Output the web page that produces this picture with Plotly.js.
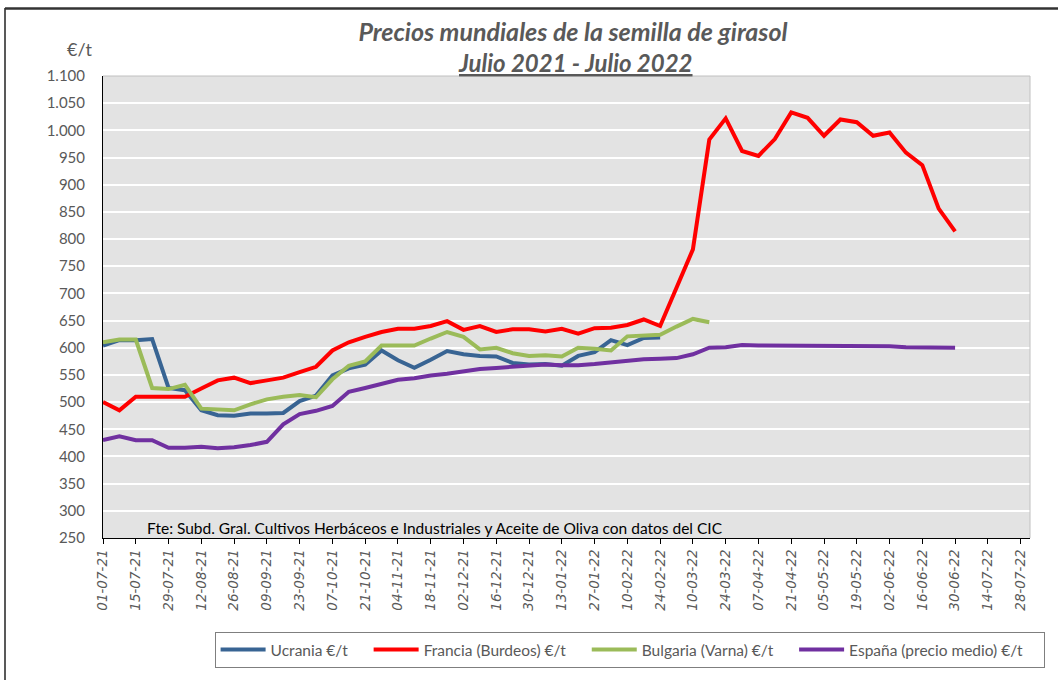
<!DOCTYPE html>
<html>
<head>
<meta charset="utf-8">
<script src="https://cdn.plot.ly/plotly-3.0.1.min.js"></script>
<style>
  html, body { margin: 0; padding: 0; background: #ffffff; }
  #chart { width: 1058px; height: 680px; }
</style>
</head>
<body>
<div id="chart"></div>
<script>
// Weekly dates
const dates = [
  '2021-07-01','2021-07-08','2021-07-15','2021-07-22','2021-07-29','2021-08-05','2021-08-12','2021-08-19','2021-08-26',
  '2021-09-02','2021-09-09','2021-09-16','2021-09-23','2021-09-30','2021-10-07','2021-10-14','2021-10-21','2021-10-28',
  '2021-11-04','2021-11-11','2021-11-18','2021-11-25','2021-12-02','2021-12-09','2021-12-16','2021-12-23','2021-12-30',
  '2022-01-06','2022-01-13','2022-01-20','2022-01-27','2022-02-03','2022-02-10','2022-02-17','2022-02-24','2022-03-03',
  '2022-03-10','2022-03-17','2022-03-24','2022-03-31','2022-04-07','2022-04-14','2022-04-21','2022-04-28','2022-05-05',
  '2022-05-12','2022-05-19','2022-05-26','2022-06-02','2022-06-09','2022-06-16','2022-06-23','2022-06-30'
];

// Series values (€/t)
const ucrania = [604,614,614,616,526,522,485,476,475,479,479,480,502,512,549,562,569,595,577,563,578,594,588,585,584,572,569,570,567,585,592,614,605,618,619];
const francia = [500,485,510,510,510,510,525,540,545,535,540,545,555,565,595,610,620,629,635,635,640,649,633,640,629,634,634,630,635,626,636,637,642,652,640,710,781,983,1022,962,953,984,1033,1023,990,1020,1015,990,996,959,936,856,814];
const bulgaria = [610,615,615,526,524,532,488,487,485,496,505,510,513,509,542,567,575,604,604,604,617,629,620,597,600,590,585,586,584,600,598,595,621,622,624,639,653,647];
const espana = [430,437,430,430,416,416,418,415,417,421,427,459,478,484,493,519,526,533,541,544,549,552,556,561,563,565,567,569,568,568,570,573,576,579,580,581,588,600,601,605,604,604,604,604,603,603,603,603,603,601,601,600,600];

const seriesNames = ['Ucrania €/t','Francia (Burdeos) €/t','Bulgaria (Varna) €/t','España (precio medio) €/t'];
const seriesColors = ['#386493','#FF0000','#9BBB59','#7030A0'];
const seriesValues = [ucrania, francia, bulgaria, espana];

const pad = '\u00a0\u00a0\u00a0\u00a0';
const traces = seriesValues.map((vals, i) => ({
  type: 'scatter',
  mode: 'lines',
  x: dates.slice(0, vals.length),
  y: vals,
  name: seriesNames[i] + pad,
  line: { color: seriesColors[i], width: 4 },
  hoverinfo: 'x+y+name'
}));

const W = 1058, H = 680, ML = 103, MR = 28, MT = 76, MB = 142;
const PW = W - ML - MR, PH = H - MT - MB;
const px = v => (v - ML) / PW;
const py = v => (H - MB - v) / PH;

const greyTxt = '#595959';

const layout = {
  width: W, height: H,
  margin: { l: ML, r: MR, t: MT, b: MB, pad: 0 },
  paper_bgcolor: '#ffffff',
  plot_bgcolor: '#E3E3E3',
  separators: ',.',
  font: { family: 'Lato, "Open Sans", sans-serif', color: greyTxt },
  title: {
    text: 'Precios mundiales de la semilla de girasol',
    font: { family: 'Lato, sans-serif', size: 25, color: greyTxt, weight: 'bold', style: 'italic' },
    xref: 'container', yref: 'container',
    x: 573 / W, y: 1 - 32 / H, xanchor: 'center', yanchor: 'middle'
  },
  xaxis: {
    type: 'date',
    range: ['2021-07-01', '2022-08-01'],
    tick0: '2021-07-01',
    dtick: 14 * 86400000,
    tickformat: '%d-%m-%y',
    tickangle: -90,
    ticks: 'outside', ticklen: 5, tickcolor: '#000000', tickwidth: 1,
    showline: true, linecolor: '#000000', linewidth: 1,
    showgrid: false, zeroline: false,
    tickfont: { family: '"DejaVu Sans", sans-serif', size: 13.5, color: greyTxt, style: 'italic' }
  },
  yaxis: {
    range: [250, 1100],
    tick0: 250, dtick: 50,
    tickformat: ',d',
    ticks: '', ticklabelstandoff: 14,
    showline: true, linecolor: '#000000', linewidth: 1,
    showgrid: true, gridcolor: '#ffffff', gridwidth: 2,
    zeroline: false,
    tickfont: { family: 'Lato, sans-serif', size: 15, color: greyTxt }
  },
  showlegend: true,
  legend: {
    orientation: 'h',
    x: px(214.6), y: py(632), xanchor: 'left', yanchor: 'top',
    itemwidth: 45,
    bordercolor: '#7f7f7f', borderwidth: 1, bgcolor: '#ffffff',
    font: { family: 'Lato, sans-serif', size: 15.5, color: greyTxt }
  },
  annotations: [
    {
      text: '<u>Julio 2021 - Julio 2022</u>',
      xref: 'paper', yref: 'paper', x: px(575), y: py(63),
      xanchor: 'center', yanchor: 'middle', showarrow: false,
      font: { family: 'Lato, sans-serif', size: 24, color: greyTxt, weight: 'bold', style: 'italic' }
    },
    {
      text: '€/t',
      xref: 'paper', yref: 'paper', x: px(79), y: py(49),
      xanchor: 'center', yanchor: 'middle', showarrow: false,
      font: { family: 'Lato, sans-serif', size: 18, color: greyTxt }
    },
    {
      text: 'Fte: Subd. Gral. Cultivos Herbáceos e Industriales y Aceite de Oliva con datos del CIC',
      xref: 'paper', yref: 'paper', x: px(145), y: py(528),
      xanchor: 'left', yanchor: 'middle', showarrow: false,
      font: { family: 'Lato, sans-serif', size: 15.5, color: '#000000' }
    }
  ],
  shapes: [
    { type: 'line', xref: 'paper', yref: 'paper', x0: 0, x1: 1, y0: 1, y1: 1, line: { color: '#c0c0c0', width: 1 } },
    { type: 'line', xref: 'paper', yref: 'paper', x0: 1, x1: 1, y0: 0, y1: 1, line: { color: '#c0c0c0', width: 1 } },
    { type: 'line', xref: 'paper', yref: 'paper', x0: px(5), x1: px(5), y0: py(8), y1: py(680), line: { color: '#222222', width: 1.5 } },
    { type: 'line', xref: 'paper', yref: 'paper', x0: px(5), x1: px(1058), y0: py(8.5), y1: py(8.5), line: { color: '#333333', width: 2.5 } }
  ]
};

Plotly.newPlot('chart', traces, layout, { displayModeBar: false, staticPlot: true });
</script>
</body>
</html>
